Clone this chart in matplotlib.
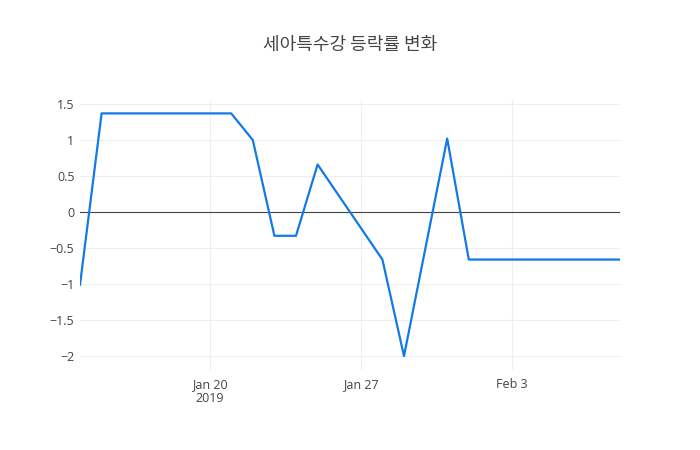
import pandas as pd
import matplotlib
matplotlib.use('Agg')
import matplotlib.pyplot as plt

# trading days and change rate (%)
dates = ['2019-01-14', '2019-01-15', '2019-01-16', '2019-01-17', '2019-01-18',
         '2019-01-21', '2019-01-22', '2019-01-23', '2019-01-24', '2019-01-25',
         '2019-01-28', '2019-01-29', '2019-01-31', '2019-02-01', '2019-02-07',
         '2019-02-08']
change = [-1.01, 1.37, 1.37, 1.37, 1.37,
          1.37, 1.00, -0.33, -0.33, 0.66,
          -0.66, -2.00, 1.02, -0.66, -0.66,
          -0.66]
title = '세아특수강 등락률 변화'
yticks = [-2, -1.5, -1, -0.5, 0, 0.5, 1, 1.5]
ytick_labels = ['\u22122', '\u22121.5', '\u22121', '\u22120.5', '0', '0.5', '1', '1.5']
xticks = ['2019-01-20', '2019-01-27', '2019-02-03']
xtick_labels = ['Jan 20\n2019', 'Jan 27', 'Feb 3']

plt.rcParams['font.family'] = ['Open Sans', 'Noto Sans CJK KR', 'DejaVu Sans']

x = pd.to_datetime(dates)
fig = plt.figure(figsize=(7, 4.5), dpi=100)
ax = fig.add_axes([80 / 700, 80 / 450, 540 / 700, 270 / 450])

ax.plot(x, change, color='#1479e8', lw=1.6, zorder=3)
ax.axhline(0, color='#444444', lw=0.8, zorder=2)

ax.set_xlim(x[0], x[-1])
ax.set_ylim(-2.194, 1.556)
ax.set_yticks(yticks)
ax.set_yticklabels(ytick_labels)
ax.set_xticks(pd.to_datetime(xticks))
ax.set_xticklabels(xtick_labels, linespacing=1.05)
ax.grid(True, color='#eeeeee', lw=0.8, zorder=0)
for s in ax.spines.values():
    s.set_visible(False)
ax.tick_params(length=0, labelsize=9, colors='#444444', pad=6)
ax.tick_params(axis='y', pad=4)

fig.text(0.5, 1 - 45 / 450, title, ha='center', va='center', fontsize=13,
         color='#444444', family=['Noto Sans CJK KR', 'DejaVu Sans'])

fig.savefig('out.png', dpi=100)
